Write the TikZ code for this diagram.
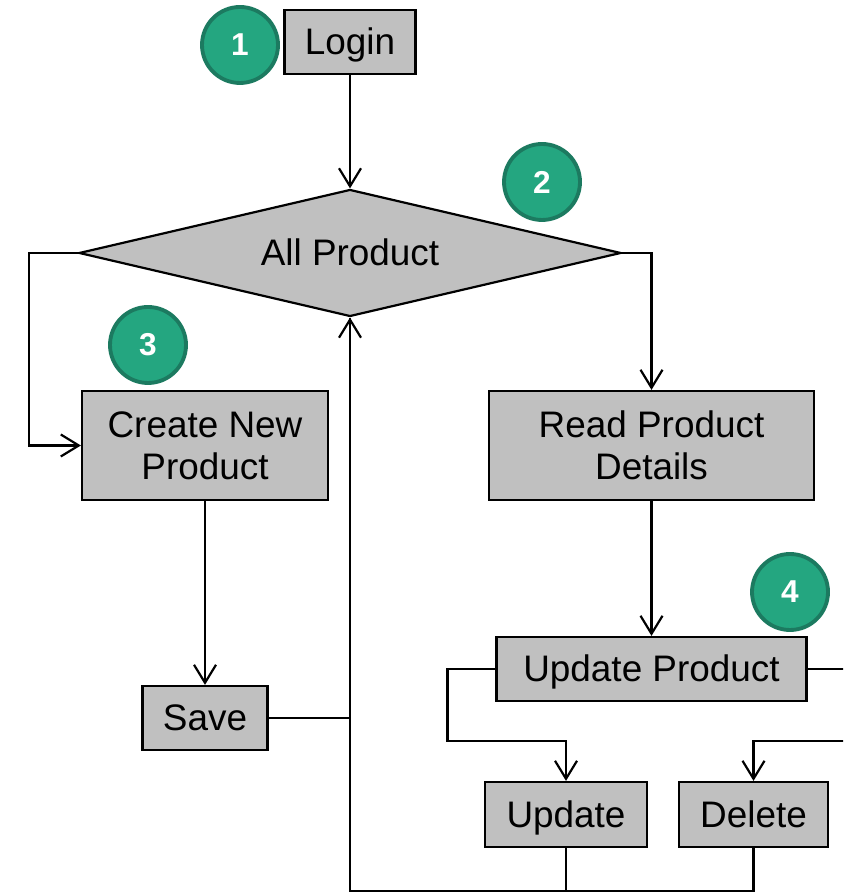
\documentclass[tikz,border=0pt]{standalone}
\usepackage{fontspec}
\setmainfont{Liberation Sans}
\usetikzlibrary{shapes.geometric,arrows.meta}
\definecolor{stepgreen}{RGB}{36,166,128}
\definecolor{stepedge}{RGB}{28,122,96}
\definecolor{boxgray}{RGB}{192,192,192}
\tikzset{
  box/.style={draw=black, fill=boxgray, line width=1.25pt, inner sep=0pt, align=center,
    font=\fontsize{21}{24}\selectfont},
  oneline/.style={text height=0.6cm, text depth=0.08cm},
  badge/.style={circle, fill=stepgreen, draw=stepedge, line width=2.2pt, minimum size=1.52cm,
    inner sep=0pt, text=white, font=\fontsize{18}{18}\selectfont\bfseries},
  arr/.style={line width=1.25pt, -{Straight Barb[length=0.36cm,width=0.44cm]}},
  link/.style={line width=1.25pt}
}
\begin{document}
\begin{tikzpicture}
    \clip (0,0) rectangle (16.86,17.88);

    \node[box, oneline, minimum width=2.62cm, minimum height=1.28cm] (login) at (7,17.04) {Login};
    \node[badge] (one) at (4.8,16.98) {1};

    \node[box, oneline, diamond, aspect=4.27, minimum width=10.84cm, minimum height=2.54cm] (allprod) at (7,12.82) {All Product};
    \node[badge] (two) at (10.84,14.24) {2};

    \node[box, minimum width=4.92cm, minimum height=2.18cm] (create) at (4.1,8.97) {Create New\\Product};
    \node[badge] (three) at (2.96,10.98) {3};
    \node[box, minimum width=6.5cm, minimum height=2.18cm] (read) at (13.03,8.97) {Read Product\\Details};

    \node[box, oneline, minimum width=2.5cm, minimum height=1.28cm] (save) at (4.1,3.52) {Save};
    \node[box, oneline, minimum width=6.2cm, minimum height=1.28cm] (updprod) at (13.03,4.5) {Update Product};
    \node[badge] (four) at (15.8,6.04) {4};

    \node[box, oneline, minimum width=3.24cm, minimum height=1.3cm] (update) at (11.32,1.59) {Update};
    \node[box, oneline, minimum width=2.98cm, minimum height=1.3cm] (delete) at (15.07,1.59) {Delete};

    \coordinate (updsplit) at (11.32,3.06);
    \coordinate (delsplit) at (15.07,3.06);
    \coordinate (base) at (7,0.06);

    \draw[arr] (login.south) -- (allprod.north);
    \draw[arr] (allprod.west) -- ++(-0.98,0) |- (create.west);
    \draw[arr] (allprod.east) -| (read.north);
    \draw[arr] (create.south) -- (save.north);
    \draw[arr] (save.east) -| (allprod.south);
    \draw[arr] (read.south) -- (updprod.north);
    \draw[arr] (updprod.west) -- ++(-0.96,0) |- (updsplit) -- (update.north);
    \draw[arr] (updprod.east) -- ++(1.2,0) |- (delsplit) -- (delete.north);
    \draw[link] (delete.south) |- (base) -- (allprod.south);
    \draw[link] (update.south) -- (update.south |- base);
\end{tikzpicture}
\end{document}
